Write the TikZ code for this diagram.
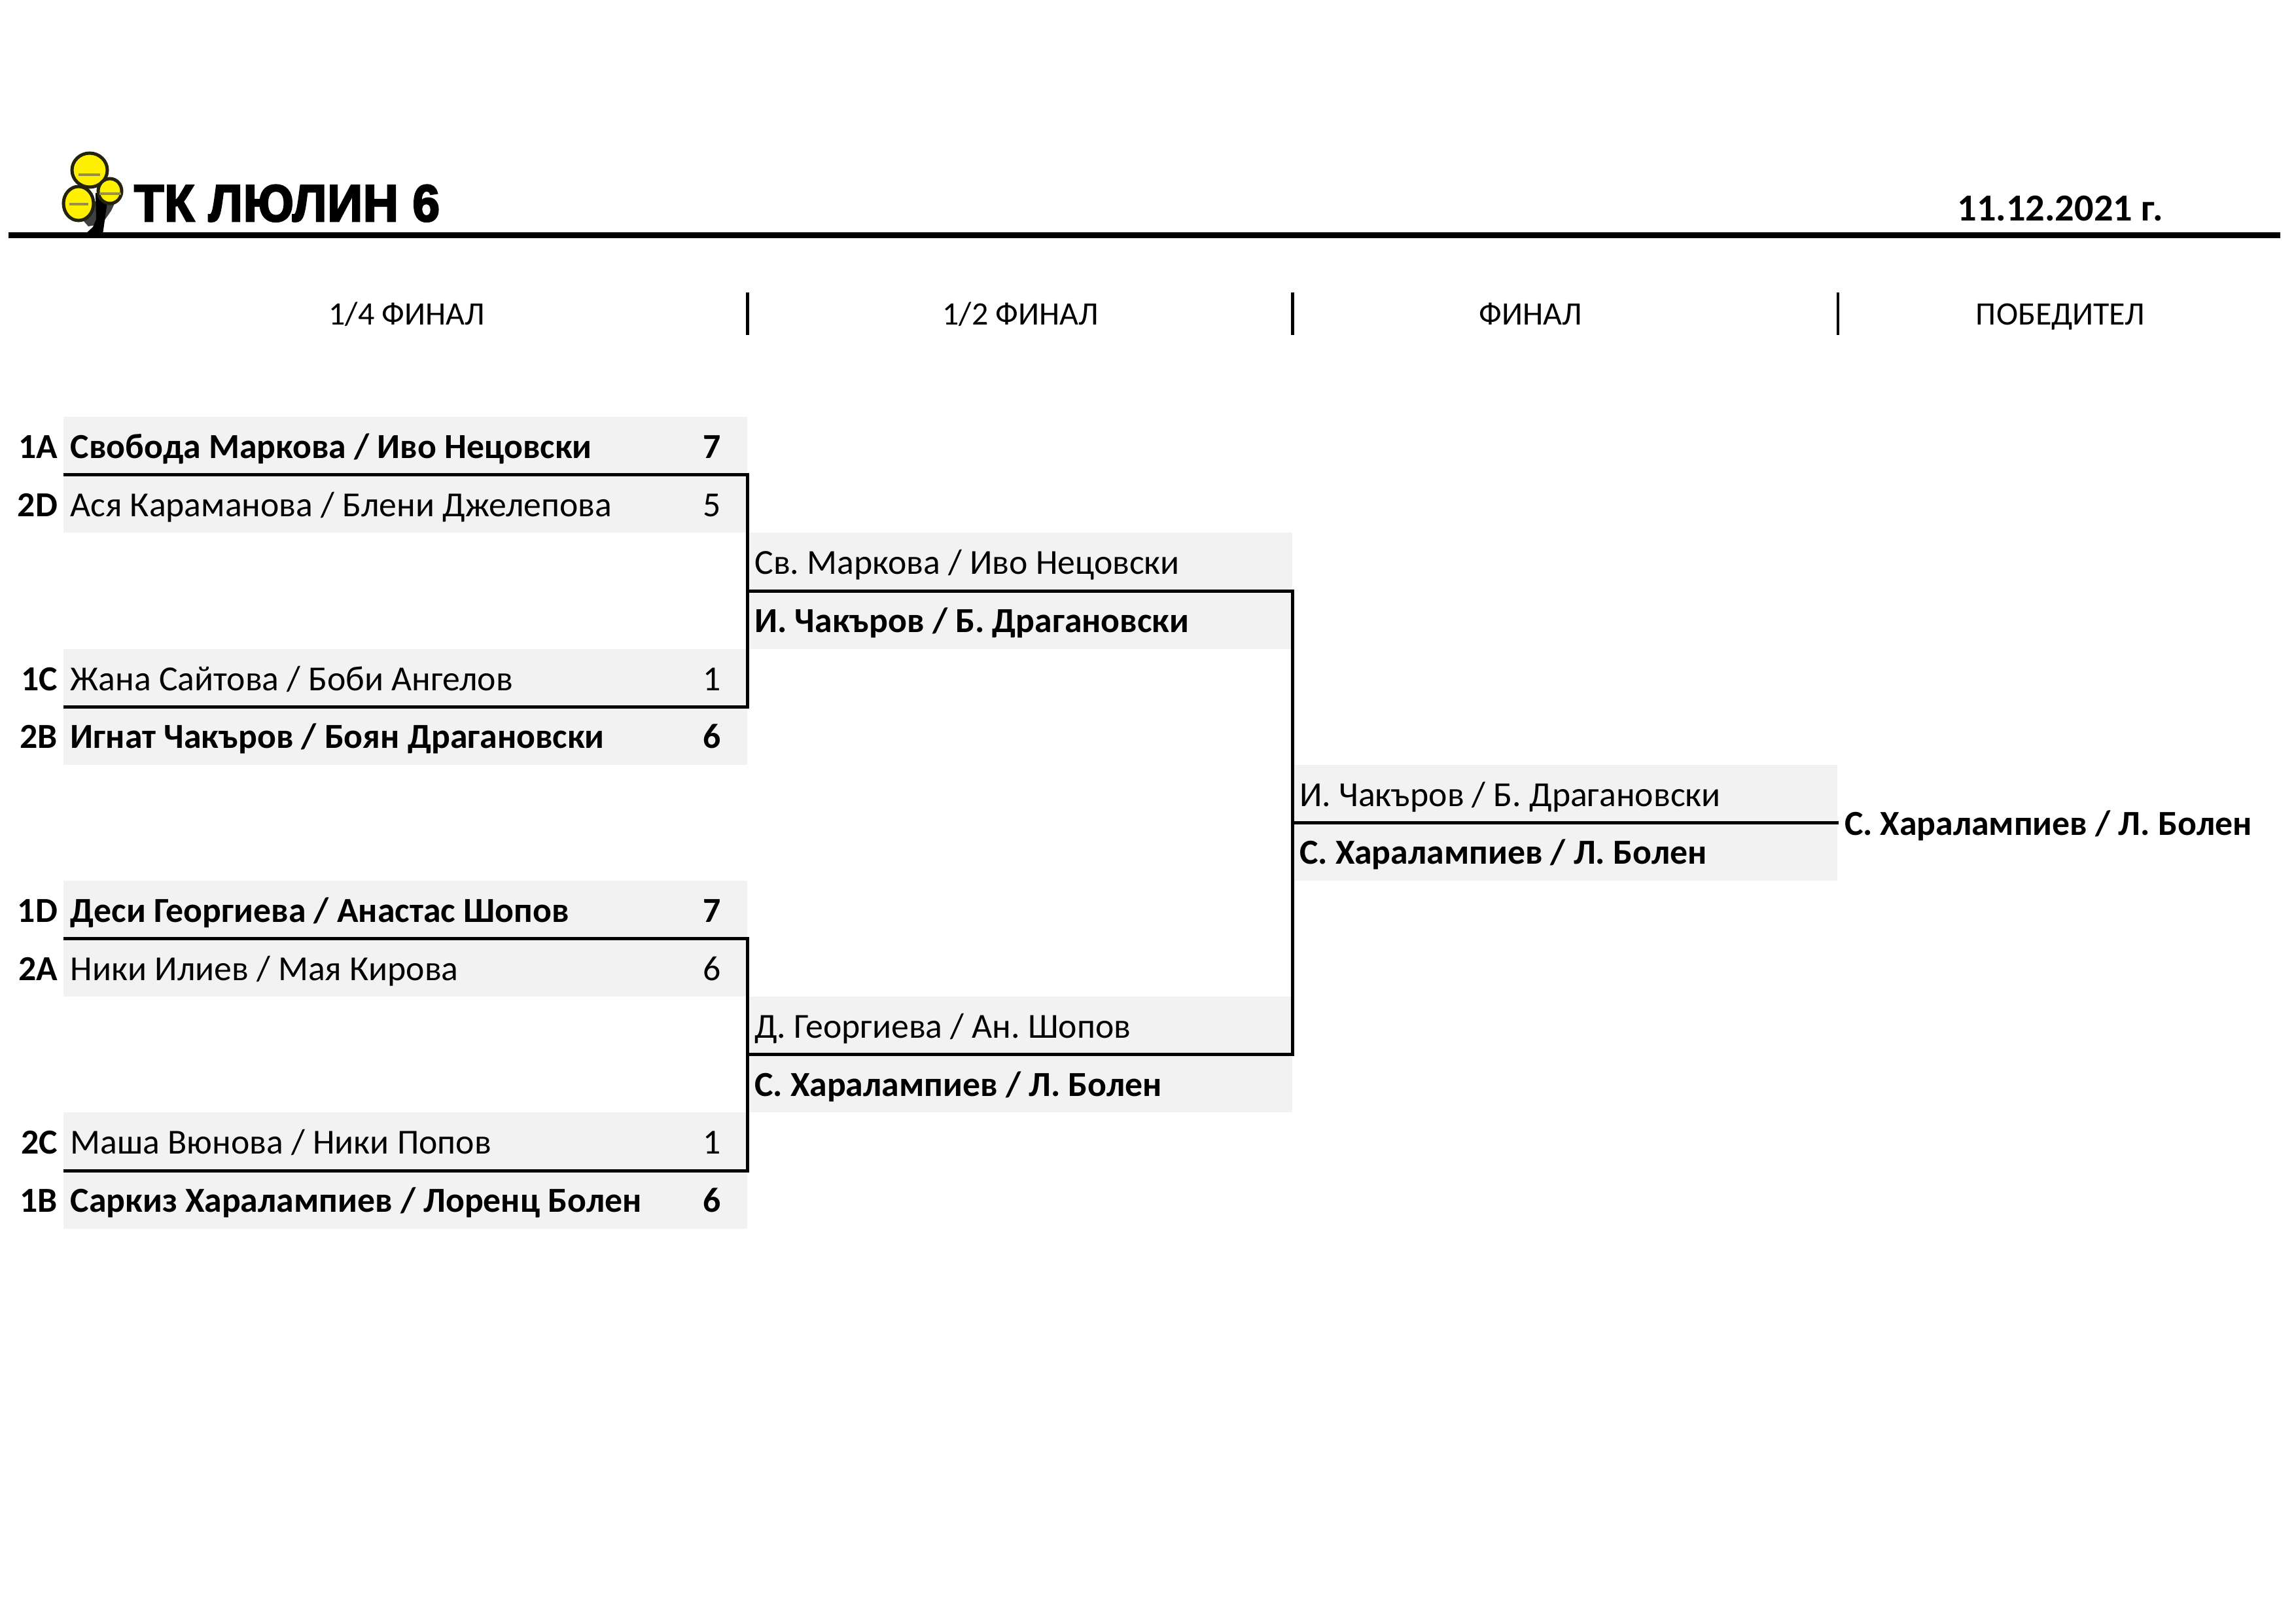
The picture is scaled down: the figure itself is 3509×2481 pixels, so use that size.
\documentclass[tikz,border=0pt]{standalone}
\usepackage{fontspec}
\setmainfont{Carlito}
\newfontfamily\clubfont[BoldFeatures={FakeBold=3.5,LetterSpace=1.5}]{Liberation Sans}
\usetikzlibrary{positioning}

\definecolor{cellgrey}{RGB}{242,242,242}
\definecolor{leafyellow}{RGB}{255,240,0}
\definecolor{leafedge}{RGB}{35,35,15}
\definecolor{leafband}{RGB}{150,145,70}

\tikzset{
	every node/.style={font=\fontsize{12.9}{15}\selectfont, inner sep=0pt, outer sep=0pt, text height=10.6pt, text depth=1.4pt},
	qfcell/.style={fill=cellgrey, anchor=north west, minimum width=250.9pt, minimum height=21.26pt, text width=245.7pt, inner xsep=2.6pt, align=flush left},
	sfcell/.style={fill=cellgrey, anchor=north west, minimum width=199.9pt, minimum height=21.26pt, text width=194.7pt, inner xsep=2.6pt, align=flush left},
	seedlabel/.style={anchor=east, font=\fontsize{12.9}{15}\selectfont\bfseries},
	scorelabel/.style={anchor=center},
	winnerlabel/.style={anchor=west, inner xsep=2.2pt, font=\fontsize{12.9}{15}\selectfont\bfseries},
	roundlabel/.style={anchor=center, font=\fontsize{12}{14}\selectfont},
	bracket/.style={draw, line width=1.2pt, line join=miter},
	roundtick/.style={line width=1.1pt},
	leaf/.style={fill=leafyellow, draw=leafedge, line width=1.2pt},
	leafmark/.style={leafband, line width=1pt},
}

\begin{document}
\begin{tikzpicture}[x=0.24pt,y=-0.24pt]
	\useasboundingbox (0,0) rectangle (3509,2481);
	\frenchspacing

	% club mark
	\fill [black!75] (128,338) -- (150,300) -- (178,305) -- (170,322) -- (156,342) -- (135,346) -- cycle;
	\fill [black] (130,358) -- (142,347) -- (147,335) -- (146,295) -- (166,295) -- (161,330) -- (157,358) -- cycle;
	\draw [leaf] (137,260) ellipse [x radius=27, y radius=26];
	\draw [leaf] (168,292) ellipse [x radius=18, y radius=19];
	\draw [leaf] (120,311) ellipse [x radius=23, y radius=26];
	\draw [leafmark] (120,267) -- (153,267);
	\draw [leafmark] (106,312) -- (135,312);
	\draw [leafmark] (152,296) -- (185,296);

	% header
	\node (club) [anchor=base west, xscale=0.94, font=\clubfont\bfseries\fontsize{19}{21}\selectfont] at (205,338) {ТК ЛЮЛИН 6};
	\node (date) [anchor=base east, font=\fontsize{14}{16}\selectfont\bfseries] at (3306,337) {11.12.2021 г.};
	\draw [line width=2.2pt] (13,359.5) -- (3485,359.5);

	% round titles
	\node (round1) [roundlabel] at (622,477) {1/4 ФИНАЛ};
	\node (round2) [roundlabel] at (1560,477) {1/2 ФИНАЛ};
	\node (round3) [roundlabel] at (2339,477) {ФИНАЛ};
	\node (round4) [roundlabel] at (3149,477) {ПОБЕДИТЕЛ};
	\draw [roundtick] (1142.5,447) -- (1142.5,512);
	\draw [roundtick] (1975.3,447) -- (1975.3,512);
	\draw [roundtick] (2809,447) -- (2809,512);

	% quarter finals
	\node (qf1) [qfcell] at (97,637.2) {\bfseries Свобода Маркова / Иво Нецовски};
	\node (qf2) [qfcell] at (97,725.8) {Ася Караманова / Блени Джелепова};
	\node (qf3) [qfcell] at (97,991.6) {Жана Сайтова / Боби Ангелов};
	\node (qf4) [qfcell] at (97,1080.2) {\bfseries Игнат Чакъров / Боян Драгановски};
	\node (qf5) [qfcell] at (97,1346.0) {\bfseries Деси Георгиева / Анастас Шопов};
	\node (qf6) [qfcell] at (97,1434.6) {Ники Илиев / Мая Кирова};
	\node (qf7) [qfcell] at (97,1700.4) {Маша Вюнова / Ники Попов};
	\node (qf8) [qfcell] at (97,1789.0) {\bfseries Саркиз Харалампиев / Лоренц Болен};

	\node (seed1) [seedlabel] at (88,681.5) {1A};
	\node (seed2) [seedlabel] at (88,770.1) {2D};
	\node (seed3) [seedlabel] at (88,1035.9) {1C};
	\node (seed4) [seedlabel] at (88,1124.5) {2B};
	\node (seed5) [seedlabel] at (88,1390.3) {1D};
	\node (seed6) [seedlabel] at (88,1478.9) {2A};
	\node (seed7) [seedlabel] at (88,1744.7) {2C};
	\node (seed8) [seedlabel] at (88,1833.3) {1B};

	\node (score1) [scorelabel] at (1088,681.5) {\bfseries 7};
	\node (score2) [scorelabel] at (1088,770.1) {5};
	\node (score3) [scorelabel] at (1088,1035.9) {1};
	\node (score4) [scorelabel] at (1088,1124.5) {\bfseries 6};
	\node (score5) [scorelabel] at (1088,1390.3) {\bfseries 7};
	\node (score6) [scorelabel] at (1088,1478.9) {6};
	\node (score7) [scorelabel] at (1088,1744.7) {1};
	\node (score8) [scorelabel] at (1088,1833.3) {\bfseries 6};

	% semi finals
	\node (sf1) [sfcell] at (1142.5,814.4) {Св. Маркова / Иво Нецовски};
	\node (sf2) [sfcell] at (1142.5,903.0) {\bfseries И. Чакъров / Б. Драгановски};
	\node (sf3) [sfcell] at (1142.5,1523.2) {Д. Георгиева / Ан. Шопов};
	\node (sf4) [sfcell] at (1142.5,1611.8) {\bfseries С. Харалампиев / Л. Болен};

	% final
	\node (fin1) [sfcell] at (1975.3,1168.8) {И. Чакъров / Б. Драгановски};
	\node (fin2) [sfcell] at (1975.3,1257.4) {\bfseries С. Харалампиев / Л. Болен};
	\node (champ) [winnerlabel] at (2809.8,1257.4) {С. Харалампиев / Л. Болен};

	% draw connectors
	\draw [bracket] (qf1.south west) -- (qf1.south east) -- (qf4.north east) -- (qf4.north west);
	\draw [bracket] (qf5.south west) -- (qf5.south east) -- (qf8.north east) -- (qf8.north west);
	\draw [bracket] (sf1.south west) -- (sf1.south east) -- (sf4.north east) -- (sf4.north west);
	\draw [bracket] (fin1.south west) -- (fin1.south west -| champ.west);

\end{tikzpicture}
\end{document}
